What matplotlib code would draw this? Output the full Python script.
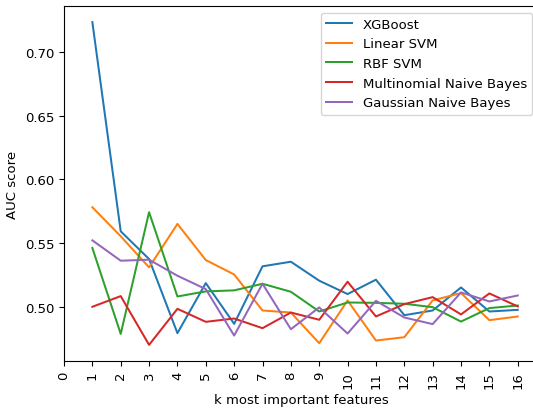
import matplotlib
matplotlib.use('Agg')
import matplotlib.pyplot as plt

# k values (number of most important features)
k_values = list(range(1, 17))

# AUC scores
xgboost = [0.7236, 0.5593, 0.5375, 0.4793, 0.5186, 0.4866, 0.5318, 0.5354,
           0.5205, 0.5100, 0.5213, 0.4934, 0.4971, 0.5152, 0.4963, 0.4976]
linear_svm = [0.5782, 0.5554, 0.5310, 0.5651, 0.5367, 0.5254, 0.4971, 0.4955,
              0.4714, 0.5050, 0.4735, 0.4761, 0.5050, 0.5108, 0.4895, 0.4924]
rbf_svm = [0.5462, 0.4787, 0.5743, 0.5081, 0.5121, 0.5129, 0.5181, 0.5118,
           0.4963, 0.5034, 0.5031, 0.5024, 0.4997, 0.4884, 0.4990, 0.5010]
multinomial_nb = [0.5000, 0.5084, 0.4701, 0.4984, 0.4882, 0.4908, 0.4832, 0.4955,
                  0.4898, 0.5197, 0.4924, 0.5021, 0.5076, 0.4940, 0.5105, 0.5003]
gaussian_nb = [0.5522, 0.5362, 0.5370, 0.5244, 0.5139, 0.4774, 0.5181, 0.4824,
               0.4995, 0.4790, 0.5047, 0.4916, 0.4864, 0.5113, 0.5042, 0.5089]

series = [
    ('XGBoost', xgboost),
    ('Linear SVM', linear_svm),
    ('RBF SVM', rbf_svm),
    ('Multinomial Naive Bayes', multinomial_nb),
    ('Gaussian Naive Bayes', gaussian_nb),
]

# reference looks like a slightly downscaled default figure
plt.rcParams['font.size'] = 9.5
plt.rcParams['lines.linewidth'] = 1.45

fig = plt.figure(figsize=(5.33, 4.10), dpi=100)
# axes run a little past the right edge of the figure, as in the reference
ax = fig.add_axes([64 / 533, 48 / 410, 475 / 533, 355 / 410])

for name, values in series:
    ax.plot(k_values, values, label=name)

ax.set_xticks(range(0, 17))
ax.set_xlim(0, 16.75)
ax.tick_params(axis='x', labelrotation=90)
ax.set_xlabel('k most important features')
ax.set_ylabel('AUC score')
ax.legend(loc='upper right')

fig.savefig('out.png', dpi=100)
